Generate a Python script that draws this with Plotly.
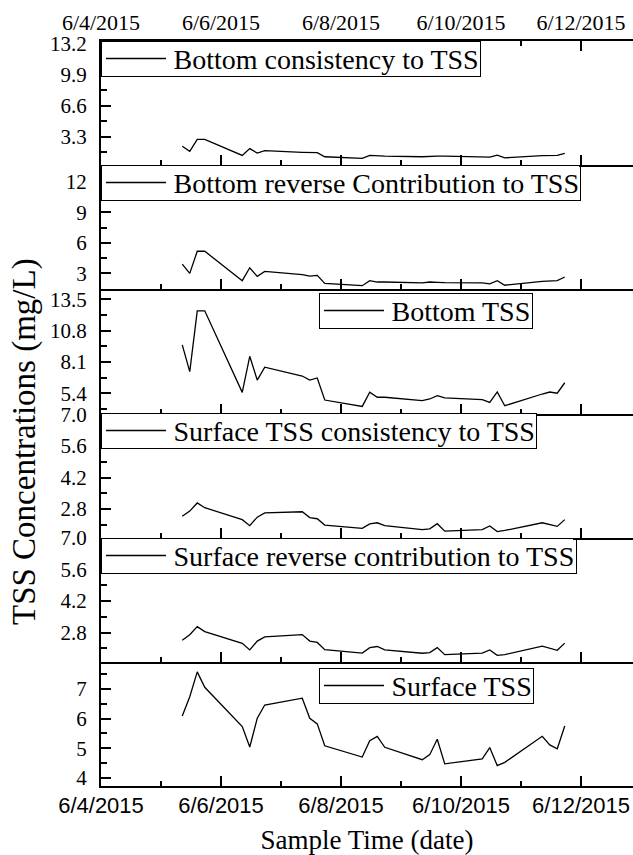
import plotly.graph_objects as go

# ---------------- data ----------------
sample_times = [
    "2015-06-05 08:30", "2015-06-05 11:30", "2015-06-05 14:30", "2015-06-05 17:30",
    "2015-06-06 08:30", "2015-06-06 11:30", "2015-06-06 14:30", "2015-06-06 17:30",
    "2015-06-07 08:30", "2015-06-07 11:30", "2015-06-07 14:30", "2015-06-07 17:30",
    "2015-06-08 08:30", "2015-06-08 11:30", "2015-06-08 14:30", "2015-06-08 17:30",
    "2015-06-09 08:30", "2015-06-09 11:30", "2015-06-09 14:30", "2015-06-09 17:30",
    "2015-06-10 08:30", "2015-06-10 11:30", "2015-06-10 14:30", "2015-06-10 17:30",
    "2015-06-11 08:30", "2015-06-11 11:30", "2015-06-11 14:30", "2015-06-11 17:30",
]

bottom_consistency = [2.30, 1.76, 3.02, 3.02, 1.33, 2.05, 1.58, 1.84, 1.66, 1.62, 1.62, 1.19, 1.01, 1.33,
                      1.26, 1.26, 1.19, 1.26, 1.26, 1.26, 1.22, 1.15, 1.37, 1.08, 1.30, 1.33, 1.33, 1.55]
bottom_reverse = [3.91, 3.00, 5.18, 5.18, 2.28, 3.55, 2.71, 3.20, 2.87, 2.74, 2.80, 2.02, 1.79, 2.28,
                  2.15, 2.15, 2.06, 2.15, 2.12, 2.09, 2.06, 1.96, 2.28, 1.83, 2.22, 2.28, 2.28, 2.64]
bottom_tss = [9.59, 7.28, 12.52, 12.52, 5.49, 8.60, 6.55, 7.66, 6.90, 6.55, 6.73, 4.83, 4.28, 5.50,
              5.07, 5.07, 4.78, 4.92, 5.21, 5.01, 4.86, 4.63, 5.53, 4.34, 5.35, 5.52, 5.42, 6.32]
surface_consistency = [2.48, 2.71, 3.07, 2.86, 2.33, 2.06, 2.44, 2.63, 2.68, 2.42, 2.37, 2.09, 1.94, 2.14,
                       2.19, 2.06, 1.89, 1.92, 2.15, 1.82, 1.89, 2.05, 1.80, 1.85, 2.19, 2.10, 2.03, 2.33]
surface_reverse = [2.46, 2.70, 3.06, 2.84, 2.32, 2.03, 2.42, 2.61, 2.71, 2.42, 2.36, 2.04, 1.89, 2.13,
                   2.18, 2.03, 1.88, 1.91, 2.13, 1.82, 1.89, 2.03, 1.79, 1.82, 2.20, 2.11, 2.01, 2.33]
surface_tss = [6.09, 6.74, 7.58, 7.06, 5.73, 5.04, 6.01, 6.46, 6.69, 6.01, 5.82, 5.08, 4.70, 5.25,
               5.40, 5.03, 4.61, 4.78, 5.30, 4.47, 4.64, 5.02, 4.41, 4.52, 5.40, 5.11, 4.98, 5.75]

series_names = [
    "Bottom consistency to TSS",
    "Bottom reverse Contribution to TSS",
    "Bottom TSS",
    "Surface TSS consistency to TSS",
    "Surface reverse contribution to TSS",
    "Surface TSS",
]
series_values = [bottom_consistency, bottom_reverse, bottom_tss,
                 surface_consistency, surface_reverse, surface_tss]

y_tickvals = [
    [3.3, 6.6, 9.9, 13.2],
    [3, 6, 9, 12],
    [5.4, 8.1, 10.8, 13.5],
    [2.8, 4.2, 5.6, 7.0],
    [2.8, 4.2, 5.6, 7.0],
    [4, 5, 6, 7],
]
y_ticktext = [
    ["3.3", "6.6", "9.9", "13.2"],
    ["3", "6", "9", "12"],
    ["5.4", "8.1", "10.8", "13.5"],
    ["2.8", "4.2", "5.6", "7.0"],
    ["2.8", "4.2", "5.6", "7.0"],
    ["4", "5", "6", "7"],
]
y_minor_step = [1.65, 1.5, 1.35, 0.7, 0.7, 0.5]
y_ranges = [[0.30, 13.44], [1.43, 13.65], [3.67, 14.37], [1.53, 7.04], [1.50, 7.01], [3.72, 7.92]]

x_range = ["2015-06-04 00:00", "2015-06-12 20:48"]
y_title = "TSS Concentrations (mg/L)"
x_title = "Sample Time (date)"

# ---------------- layout constants ----------------
W, H = 633, 855
ML, MR, MT, MB = 101, 0, 41, 69
PW, PH = W - ML - MR, H - MT - MB

# legend boxes: left, top, right edges in pixels
legend_box_px = [(101, 41, 480), (101, 165, 579), (319, 293, 531),
                 (101, 413, 536), (101, 538, 573), (319, 668, 534)]
LEG_H = 35          # box height in px
LEG_LINE = (5, 65)  # sample line start/end inside box, px

SERIF = "Liberation Serif"
SANS = "Liberation Sans"
DAY_MS = 86400000


def px_to_paper(px, py):
    return (px - ML) / PW, (H - MB - py) / PH


fig = go.Figure()
n = len(series_names)
layout = dict(
    width=W, height=H,
    margin=dict(l=ML, r=MR, t=MT, b=MB, autoexpand=False),
    paper_bgcolor="white", plot_bgcolor="white",
    font=dict(family=SERIF, color="black", size=22),
    showlegend=False,
)
annotations = []
shapes = []

for i in range(n):
    k = i + 1
    sfx = "" if k == 1 else str(k)
    fig.add_trace(go.Scatter(
        x=sample_times, y=series_values[i], mode="lines",
        line=dict(color="black", width=1.3),
        name=series_names[i],
        xaxis="x" + sfx, yaxis="y" + sfx,
        hoverinfo="skip",
    ))
    top = 1 - i / n
    bot = 1 - (i + 1) / n
    xa = dict(
        domain=[0, 1], anchor="y" + sfx, type="date", range=x_range,
        showline=True, linewidth=2, linecolor="black",
        ticks="inside", ticklen=10, tickwidth=2, tickcolor="black",
        tick0="2015-06-04", dtick=2 * DAY_MS,
        minor=dict(ticks="inside", ticklen=5, tickwidth=2, tickcolor="black", dtick=DAY_MS, tick0="2015-06-04"),
        showgrid=False, zeroline=False, automargin=False,
        tickformat="%-m/%-d/%Y",
        showticklabels=False,
    )
    if k > 1:
        xa["matches"] = "x"
    if k == 1:
        xa.update(side="top", mirror="ticks", showticklabels=True,
                  tickfont=dict(family=SERIF, size=22), ticklabelstandoff=0)
    if k == n:
        xa.update(showticklabels=True, tickfont=dict(family=SANS, size=22), ticklabelstandoff=-1,
                  title=dict(text=x_title, font=dict(family=SERIF, size=27), standoff=27))
    layout["xaxis" + sfx] = xa
    layout["yaxis" + sfx] = dict(
        domain=[bot, top], anchor="x" + sfx, range=y_ranges[i],
        showline=True, linewidth=2, linecolor="black",
        ticks="inside", ticklen=10, tickwidth=2, tickcolor="black",
        tickmode="array", tickvals=y_tickvals[i], ticktext=y_ticktext[i],
        minor=dict(ticks="inside", ticklen=6, tickwidth=2, tickcolor="black",
                   tickmode="linear", tick0=0, dtick=y_minor_step[i]),
        tickfont=dict(family=SERIF, size=21), ticklabelstandoff=8,
        showgrid=False, zeroline=False, automargin=False,
    )
    # short stubs on the right side (the frame lies just outside the picture)
    layout["yaxis" + str(n + k)] = dict(
        overlaying="y" + sfx, side="right", anchor="x" + sfx, range=y_ranges[i],
        showline=False, ticks="inside", ticklen=3, tickwidth=2, tickcolor="black",
        tickmode="array", tickvals=y_tickvals[i], showticklabels=False,
        showgrid=False, zeroline=False, automargin=False,
    )

    # legend box: white backing, sample line, then bordered text on top
    bx, by, br = legend_box_px[i]
    ax, ay = px_to_paper(bx, by)
    rx1, ry1 = px_to_paper(br, by + LEG_H)
    shapes.append(dict(type="rect", xref="paper", yref="paper", layer="above",
                       x0=ax, x1=rx1, y0=ry1, y1=ay,
                       fillcolor="white", line=dict(width=0)))
    lx0, ly = px_to_paper(bx + LEG_LINE[0], by + LEG_H / 2)
    lx1, _ = px_to_paper(bx + LEG_LINE[1], by + LEG_H / 2)
    shapes.append(dict(type="line", xref="paper", yref="paper", layer="above",
                       x0=lx0, x1=lx1, y0=ly, y1=ly,
                       line=dict(color="black", width=1.3)))
    annotations.append(dict(
        text="&nbsp;" * 10 + series_names[i],
        xref="paper", yref="paper", x=ax, y=ay, xanchor="left", yanchor="top",
        showarrow=False, align="left",
        bgcolor="rgba(0,0,0,0)", bordercolor="black", borderwidth=1, borderpad=1.5,
        font=dict(family=SERIF, size=28),
    ))

annotations.append(dict(
    text=y_title, textangle=-90, showarrow=False,
    xref="paper", yref="paper", x=(24 - ML) / PW, y=(H - MB - 442) / PH,
    xanchor="center", yanchor="middle",
    font=dict(family=SERIF, size=33),
))
layout["annotations"] = annotations
layout["shapes"] = shapes

fig.update_layout(**layout)
fig.write_html("out.html", config={"displayModeBar": False},
               post_script="document.body.style.margin='0';document.documentElement.style.overflow='hidden';")
